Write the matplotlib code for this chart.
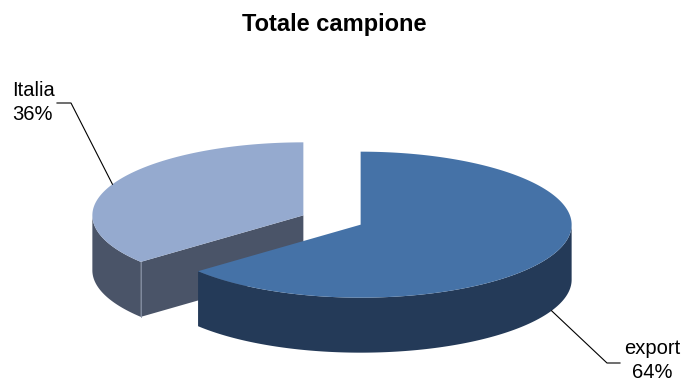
import numpy as np
import matplotlib.pyplot as plt
from matplotlib.patches import Polygon

# share of the sample by market
labels = ['export', 'Italia']
values = [64, 36]

top_colors = ['#4572A7', '#95AACF']
side_colors = ['#243A58', '#4A5468']

# pie geometry in pixel units (y grows downwards)
cx, cy = 332, 220
rx, ry = 211, 73
depth = 55
explode = 0.15

# label anchors: elbow point, end of the short horizontal tick, text position
label_layout = {
    'export': dict(elbow=(607, 363), end=(620, 363), text=(652, 360), ha='center'),
    'Italia': dict(elbow=(71, 103), end=(57, 103), text=(12, 102), ha='left'),
}

plt.rcParams['font.family'] = ['Liberation Sans', 'DejaVu Sans']

fig = plt.figure(figsize=(6.84, 3.86), dpi=100)
ax = fig.add_axes([0, 0, 1, 1])
ax.set_xlim(0, 684)
ax.set_ylim(386, 0)
ax.axis('off')


def rim(x0, y0, t, dy=0):
    t = np.radians(t)
    return np.column_stack([x0 + rx * np.cos(t), y0 - ry * np.sin(t) + dy])


def arc(t1, t2, n=200):
    return np.linspace(t1, t2, n)


# slices go clockwise from 12 o'clock
total = sum(values)
slices = []
start = 90.0
for lab, v, tc, sc in zip(labels, values, top_colors, side_colors):
    span = 360.0 * v / total
    t1, t2 = start - span, start
    mid = np.radians((t1 + t2) / 2)
    x0 = cx + rx * explode * np.cos(mid)
    y0 = cy - ry * explode * np.sin(mid)
    slices.append(dict(label=lab, value=v, t1=t1, t2=t2, x0=x0, y0=y0,
                       mid=(t1 + t2) / 2, top=tc, side=sc))
    start = t1

# back slices first
for s in sorted(slices, key=lambda s: s['y0']):
    x0, y0, t1, t2 = s['x0'], s['y0'], s['t1'], s['t2']

    # curved outer wall, only the part facing the viewer
    for k in (-1, 0, 1):
        a = max(t1, 180 + 360 * k)
        b = min(t2, 360 + 360 * k)
        if a < b:
            th = arc(a, b)
            upper = rim(x0, y0, th)
            lower = rim(x0, y0, th[::-1], depth)
            ax.add_patch(Polygon(np.vstack([upper, lower]), closed=True,
                                 facecolor=s['side'], edgecolor='none'))

    # flat cut faces along the radii
    for t, sign in ((t1, -1), (t2, 1)):
        r = np.radians(t)
        # outward normal of the face, projected on the viewing direction
        if sign * np.cos(r) < -1e-6:
            p = rim(x0, y0, [t])[0]
            face = np.array([[x0, y0], p, p + [0, depth], [x0, y0 + depth]])
            ax.add_patch(Polygon(face, closed=True, facecolor=s['side'],
                                 edgecolor='none'))
            ax.plot([p[0], p[0]], [p[1], p[1] + depth], color='#8A94A8', lw=0.6)

    # top face
    top = np.vstack([[x0, y0], rim(x0, y0, arc(t1, t2))])
    ax.add_patch(Polygon(top, closed=True, facecolor=s['top'], edgecolor='none'))

# leader lines and labels
for s in slices:
    lay = label_layout[s['label']]
    dy = 0 if np.sin(np.radians(s['mid'])) > 0 else depth
    ax_pt = rim(s['x0'], s['y0'], [s['mid']], dy)[0]
    ex, ey = lay['elbow']
    hx, hy = lay['end']
    ax.plot([ax_pt[0], ex, hx], [ax_pt[1], ey, hy], color='black', lw=0.8)
    tx, ty = lay['text']
    pct = f"{round(100 * s['value'] / total)}%"
    ax.text(tx, ty - 12, s['label'], ha=lay['ha'], va='center', fontsize=14.5)
    ax.text(tx, ty + 13, pct, ha=lay['ha'], va='center', fontsize=14.5)

ax.text(334, 25, 'Totale campione', ha='center', va='center',
        fontsize=17, fontweight='bold')

fig.savefig('out.png', dpi=100)
